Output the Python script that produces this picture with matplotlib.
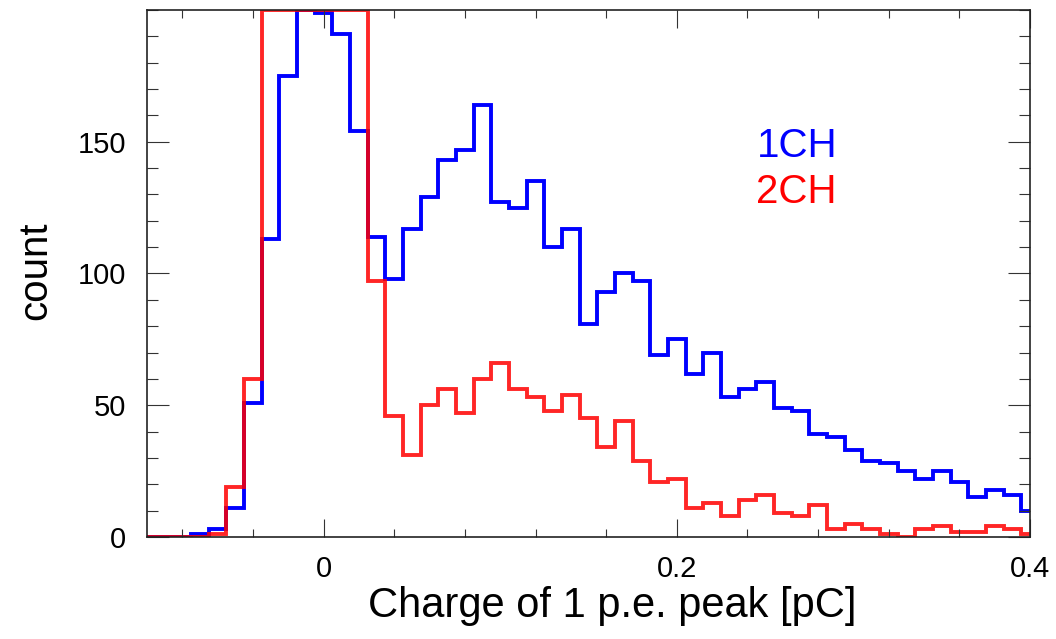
import numpy as np
import matplotlib
matplotlib.use('Agg')
import matplotlib.pyplot as plt
from matplotlib.ticker import MultipleLocator

plt.rcParams['font.family'] = ['Liberation Sans', 'DejaVu Sans']

# bin centres, width 0.01 pC
centers = np.round(np.arange(-0.10, 0.405, 0.01), 3)
# counts (the central red bins run off the top, estimated)
ch1 = [0, 0, 0, 1, 3, 11, 51, 113, 175, 200, 199, 191, 154, 114, 98, 117, 129,
       143, 147, 164, 127, 125, 135, 110, 117, 81, 93, 100, 97, 69, 75, 62, 70,
       53, 56, 59, 49, 48, 39, 38, 33, 29, 28, 25, 22, 25, 21, 15, 18, 16, 10]
ch2 = [0, 0, 0, 0, 1, 19, 60, 230, 320, 380, 360, 300, 220, 97, 46, 31, 50,
       56, 47, 60, 66, 56, 53, 48, 54, 45, 34, 44, 29, 21, 22, 11, 13,
       8, 14, 16, 9, 8, 12, 3, 5, 3, 1, 0, 3, 4, 2, 2, 4, 3, 1]
ymax = 200

edges = np.append(centers - 0.005, centers[-1] + 0.005)

fig = plt.figure(figsize=(10.56, 6.39), dpi=100)
ax = fig.add_axes([0.1392, 0.1596, 0.8362, 0.8248])

# histogram clipped at frame top like ROOT does
ax.stairs(np.minimum(ch1, ymax), edges, color='#0000ff', lw=2.8, baseline=0)
ax.stairs(np.minimum(ch2, ymax), edges, color='#ff0000', lw=2.8, baseline=0, alpha=0.85)

ax.set_xlim(-0.1, 0.4)
ax.set_ylim(0, ymax)

ax.xaxis.set_major_locator(MultipleLocator(0.2))
ax.xaxis.set_minor_locator(MultipleLocator(0.04))
ax.yaxis.set_major_locator(MultipleLocator(50))
ax.yaxis.set_minor_locator(MultipleLocator(10))
ax.set_xticks([0, 0.2, 0.4])
ax.set_xticklabels(['0', '0.2', '0.4'])
ax.set_yticks([0, 50, 100, 150])

ax.tick_params(axis='both', which='both', direction='in', top=True, right=True,
               labelsize=21, width=0.8, color='#333333')
ax.tick_params(axis='x', which='major', length=13, pad=13)
ax.tick_params(axis='x', which='minor', length=6)
ax.tick_params(axis='y', which='major', length=16, pad=15)
ax.tick_params(axis='y', which='minor', length=8)
for s in ax.spines.values():
    s.set_linewidth(1.2)
    s.set_color('#222222')

ax.set_xlabel('Charge of 1 p.e. peak [pC]', fontsize=30)
ax.xaxis.set_label_coords(0.527, -0.093)
ax.set_ylabel('count', fontsize=29)
ax.yaxis.set_label_coords(-0.105, 0.505)

ax.text(0.691, 0.721, '1CH', color='#0000ff', fontsize=29, transform=ax.transAxes)
ax.text(0.690, 0.634, '2CH', color='#ff0000', fontsize=29, transform=ax.transAxes)

fig.savefig('out.png', dpi=100)
